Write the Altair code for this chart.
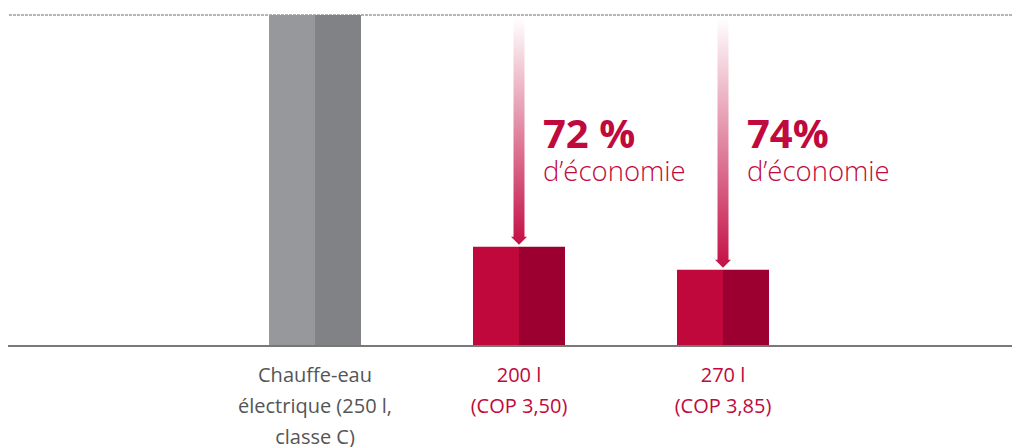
import altair as alt
import pandas as pd

# ---- data ----
categories = ["elec", "hp200", "hp270"]
label_lines = ["Chauffe-eau\nélectrique (250 l,\nclasse C)", "200 l\n(COP 3,50)", "270 l\n(COP 3,85)"]
values = [100, 30, 23]
savings = ["", "72 %", "74%"]
saving_word = ["", "d’économie", "d’économie"]
halves = ["gauche", "droite"]
bar_colors = {
    "elec": ["#97989c", "#818286"],
    "hp200": ["#c0083c", "#9c0030"],
    "hp270": ["#c0083c", "#9c0030"],
}
label_colors = ["#555555", "#c0093c", "#c0093c"]

RED = "#c5164a"
FONT = "Open Sans"
ref_value = values[0]

rows = []
for c, v in zip(categories, values):
    for h in halves:
        rows.append({"cat": c, "half": h, "key": f"{c}-{h}", "value": v})
bars_df = pd.DataFrame(rows)
keys = [f"{c}-{h}" for c in categories for h in halves]
key_colors = [bar_colors[c][i] for c in categories for i in range(2)]

info_df = pd.DataFrame({
    "cat": categories,
    "value": values,
    "ref": [ref_value] * len(values),
    "zero": [0] * len(values),
    "label": label_lines,
    "lcolor": label_colors,
    "saving": savings,
    "word": saving_word,
})
arrow_df = info_df[info_df["saving"] != ""]

xscale = alt.Scale(domain=categories, range=[205, 817], paddingInner=0.549, paddingOuter=0.2745)
yscale = alt.Scale(domain=[0, 102.1], range=[338, 0])
X = alt.X("cat:N", sort=categories, scale=xscale, axis=None)

bars = alt.Chart(bars_df).mark_bar().encode(
    x=X,
    xOffset=alt.XOffset("half:N", sort=halves),
    y=alt.Y("value:Q", scale=yscale, axis=None),
    color=alt.Color("key:N", scale=alt.Scale(domain=keys, range=key_colors), legend=None),
)

top_rule = alt.Chart(info_df).mark_rule(
    color="#b4b4b4", strokeWidth=1.5, strokeDash=[3, 1]
).encode(y=alt.Y("ref:Q", scale=yscale, axis=None))

base_rule = alt.Chart(info_df).mark_rule(color="#777777", strokeWidth=1.5).encode(
    y=alt.Y("zero:Q", scale=yscale, axis=None)
)

grad = alt.Gradient(
    gradient="linear",
    stops=[alt.GradientStop(color="#ffffff", offset=0), alt.GradientStop(color=RED, offset=1)],
    x1=0, x2=0, y1=0, y2=1,
)

shaft = alt.Chart(arrow_df).mark_bar(color=grad, size=11, yOffset=3, y2Offset=-9).encode(
    x=X,
    y=alt.Y("ref:Q", scale=yscale, axis=None),
    y2="value:Q",
)

head = alt.Chart(arrow_df).mark_point(
    shape="M-1,-0.5L1,-0.5L0,0.5Z", filled=True, size=256, color=RED, opacity=1, yOffset=-6
).encode(x=X, y=alt.Y("value:Q", scale=yscale, axis=None))

pct = alt.Chart(arrow_df).mark_text(
    align="left", baseline="alphabetic", dx=24, dy=133, font=FONT, fontSize=40,
    fontWeight="bold", color="#c0093c",
).encode(x=X, y=alt.Y("ref:Q", scale=yscale, axis=None), text="saving:N")

word = alt.Chart(arrow_df).mark_text(
    align="left", baseline="alphabetic", dx=24, dy=166, font=FONT, fontSize=27.5,
    fontWeight=300, color="#c0093c",
).encode(x=X, y=alt.Y("ref:Q", scale=yscale, axis=None), text="word:N")

labels = alt.Chart(info_df).mark_text(
    align="center", baseline="alphabetic", dy=36, font=FONT, fontSize=20, lineHeight=31,
    lineBreak="\n",
).encode(
    x=X,
    y=alt.Y("zero:Q", scale=yscale, axis=None),
    text="label:N",
    color=alt.Color("lcolor:N", scale=None),
)

chart = alt.layer(top_rule, bars, shaft, head, pct, word, base_rule, labels).properties(
    width=1004, height=439, padding=0, autosize=alt.AutoSizeParams(type="none"),
    background="white",
).configure_view(stroke=None)

chart.save("out.html", embed_options={"renderer": "svg", "actions": False})
